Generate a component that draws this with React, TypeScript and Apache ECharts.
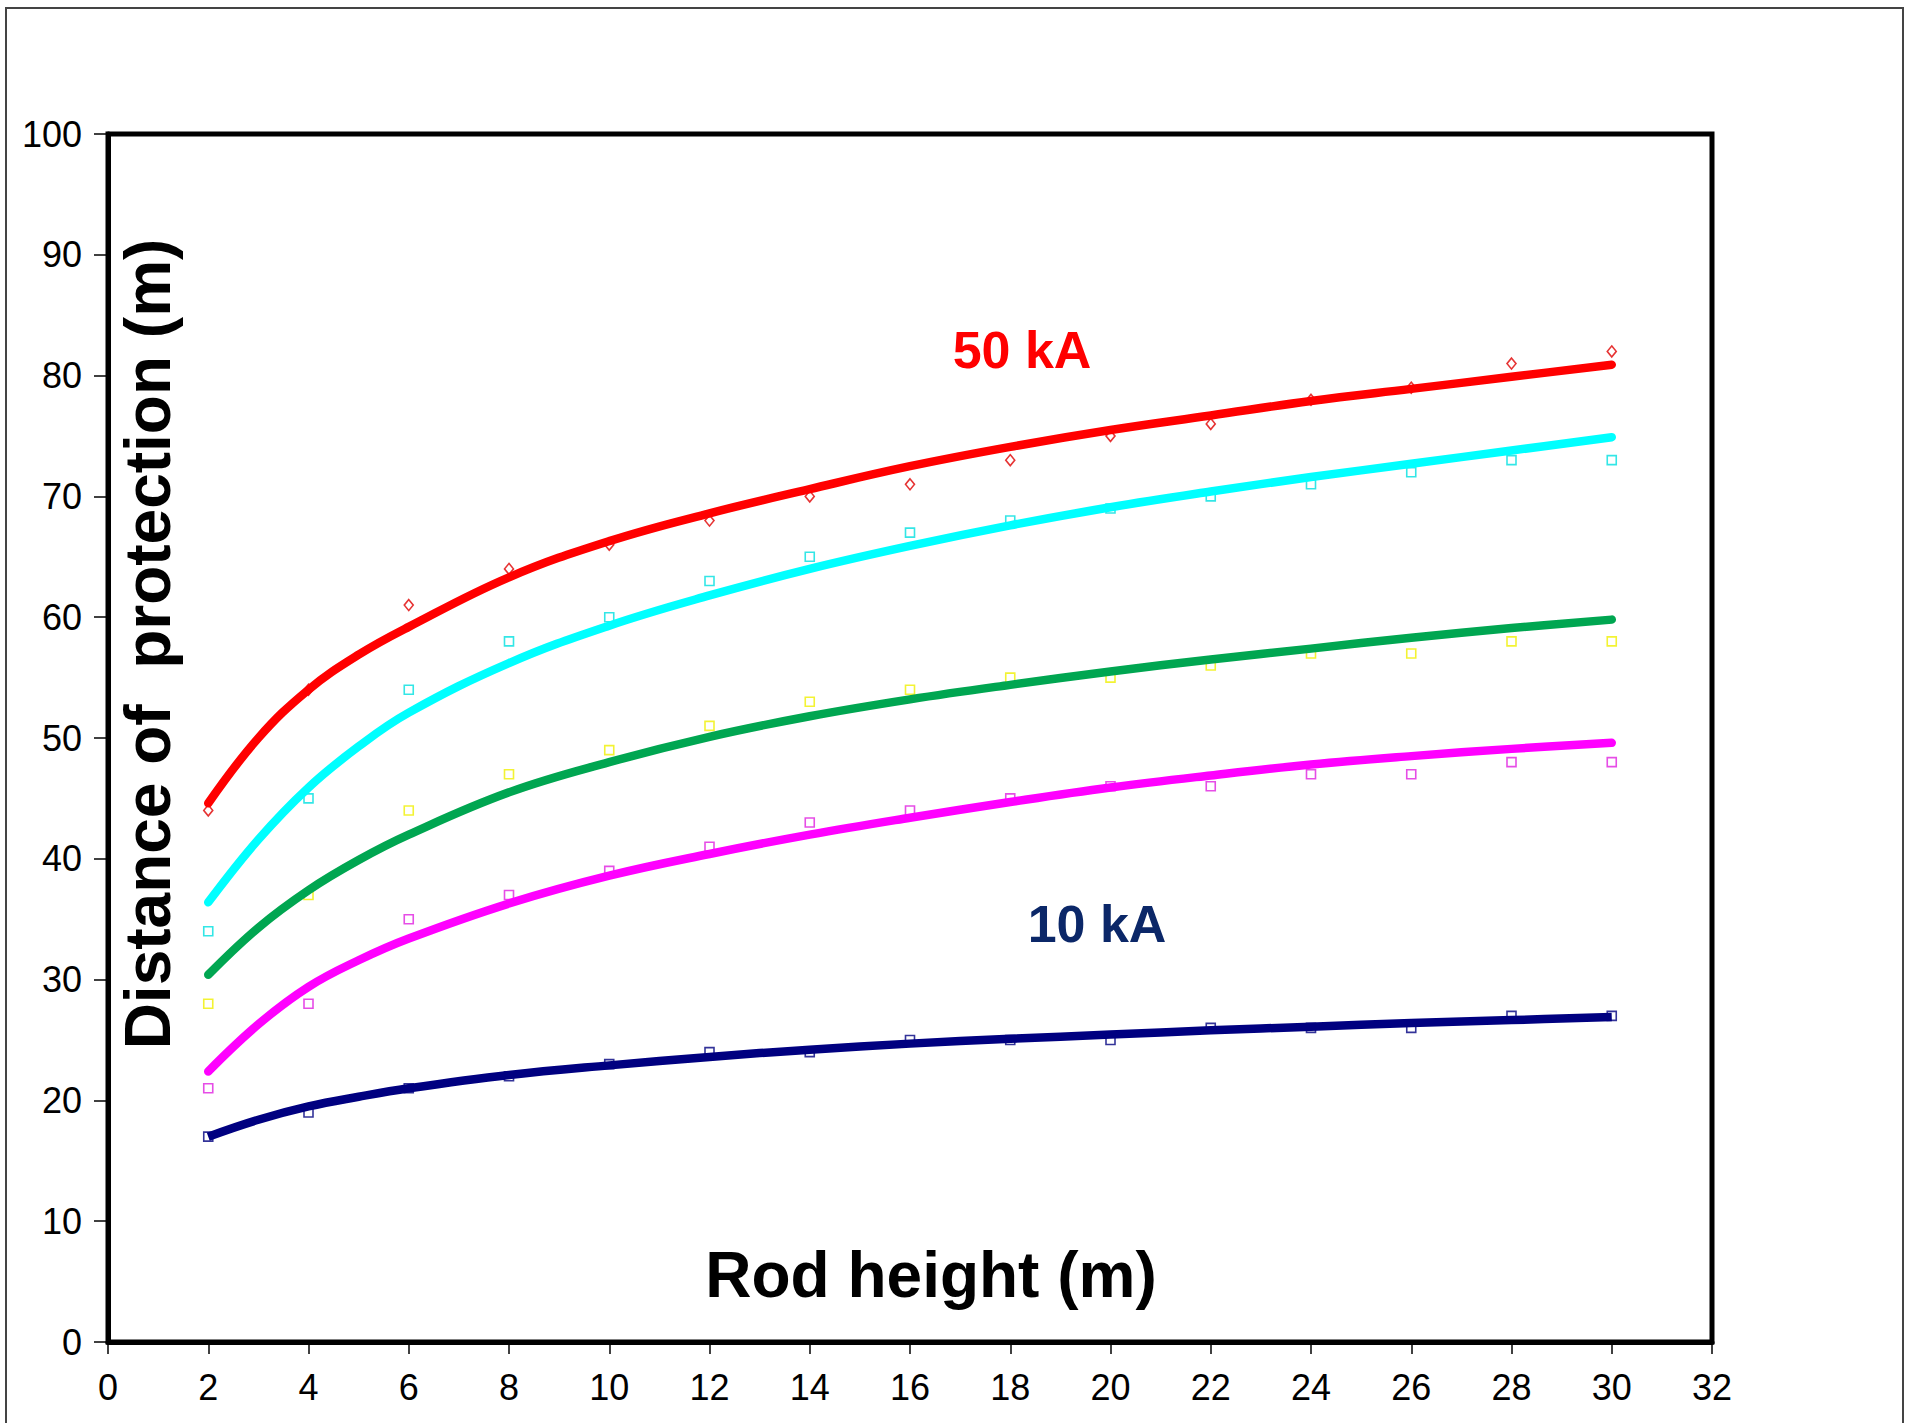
import React, { useEffect, useRef } from "react";
import * as echarts from "echarts";

// Marker (measured) data
const markerX = [2, 4, 6, 8, 10, 12, 14, 16, 18, 20, 22, 24, 26, 28, 30];
const redMarkers = [44, 54, 61, 64, 66, 68, 70, 71, 73, 75, 76, 78, 79, 81, 82];
const cyanMarkers = [34, 45, 54, 58, 60, 63, 65, 67, 68, 69, 70, 71, 72, 73, 73];
const yellowMarkers = [28, 37, 44, 47, 49, 51, 53, 54, 55, 55, 56, 57, 57, 58, 58];
const magentaMarkers = [21, 28, 35, 37, 39, 41, 43, 44, 45, 46, 46, 47, 47, 48, 48];
const navyMarkers = [17, 19, 21, 22, 23, 24, 24, 25, 25, 25, 26, 26, 26, 27, 27];

// Fitted curves
const curveX = [2, 3, 4, 5, 6, 8, 10, 12, 14, 16, 18, 20, 22, 24, 26, 28, 30];
const redCurve = [44.6, 50.0, 54.0, 56.9, 59.2, 63.3, 66.3, 68.6, 70.6, 72.5, 74.1, 75.5, 76.7, 77.9, 78.9, 79.9, 80.9];
const cyanCurve = [36.4, 41.6, 45.9, 49.3, 52.1, 56.2, 59.3, 61.8, 64.0, 65.9, 67.6, 69.1, 70.4, 71.6, 72.7, 73.8, 74.9];
const greenCurve = [30.4, 34.3, 37.4, 39.9, 42.0, 45.5, 48.0, 50.1, 51.8, 53.2, 54.4, 55.5, 56.5, 57.4, 58.3, 59.1, 59.8];
const magentaCurve = [22.4, 26.3, 29.4, 31.6, 33.4, 36.3, 38.6, 40.4, 42.0, 43.4, 44.7, 45.9, 46.9, 47.8, 48.5, 49.1, 49.6];
const navyCurve = [17.0, 18.4, 19.5, 20.3, 21.0, 22.1, 22.9, 23.6, 24.2, 24.7, 25.1, 25.45, 25.8, 26.1, 26.4, 26.65, 26.9];

const xTitle = "Rod height (m)";
const yTitle = "Distance of  protection (m)";
const label50 = "50 kA";
const label10 = "10 kA";

const FONT = "'Liberation Sans', Arial, Helvetica, sans-serif";

const pairs = (xs: number[], ys: number[]) => xs.map((x, i) => [x, ys[i]]);

export default function App() {
  const ref = useRef<HTMLDivElement>(null);

  useEffect(() => {
    document.body.style.margin = "0";
    if (!ref.current) return;
    const chart = echarts.init(ref.current, undefined, { renderer: "svg" });

    const scatter = (data: number[], color: string, symbol: string, size: any) => ({
      type: "scatter",
      data: pairs(markerX, data),
      symbol,
      symbolSize: size,
      z: 2,
      itemStyle: { color: "rgba(255,255,255,0)", borderColor: color, borderWidth: 1.6 },
      silent: true,
    });
    const line = (data: number[], color: string, cap: string = "round") => ({
      type: "line",
      data: pairs(curveX, data),
      smooth: 0.4,
      showSymbol: false,
      symbol: "none",
      z: 3,
      lineStyle: { color, width: 8.5, cap, join: "round" },
      silent: true,
    });

    chart.setOption({
      animation: false,
      backgroundColor: "#ffffff",
      grid: {
        left: 108,
        right: 198,
        top: 134,
        bottom: 81,
        show: true,
        borderColor: "#000",
        borderWidth: 5,
        backgroundColor: "transparent",
      },
      xAxis: {
        type: "value",
        min: 0,
        max: 32,
        interval: 2,
        splitLine: { show: false },
        axisLine: { show: true, lineStyle: { color: "#000", width: 5 } },
        axisTick: { show: true, inside: false, length: 12, lineStyle: { color: "#000", width: 1.5 } },
        axisLabel: { fontSize: 36, color: "#000", fontFamily: FONT, margin: 27 },
      },
      yAxis: {
        type: "value",
        min: 0,
        max: 100,
        interval: 10,
        splitLine: { show: false },
        axisLine: { show: true, lineStyle: { color: "#000", width: 5 } },
        axisTick: { show: true, inside: false, length: 14, lineStyle: { color: "#000", width: 1.5 } },
        axisLabel: { fontSize: 36, color: "#000", fontFamily: FONT, margin: 26 },
      },
      series: [
        scatter(redMarkers, "#e00000", "diamond", [9, 11]),
        scatter(cyanMarkers, "#00e0e0", "rect", 9),
        scatter(yellowMarkers, "#f0f000", "rect", 9),
        scatter(magentaMarkers, "#e020e0", "rect", 9),
        scatter(navyMarkers, "#000080", "rect", 9),
        line(redCurve, "#ff0000"),
        line(cyanCurve, "#00ffff"),
        line(greenCurve, "#00a651"),
        line(magentaCurve, "#ff00ff"),
        line(navyCurve, "#000080", "butt"),
      ],
      graphic: [
        {
          type: "rect",
          shape: { x: 6, y: 8, width: 1897, height: 1440 },
          style: { fill: "none", stroke: "#444", lineWidth: 2 },
          silent: true,
          z: 0,
        },
        {
          type: "text",
          x: 1022,
          y: 350,
          style: { text: label50, fill: "#ff0000", font: `bold 52px ${FONT}`, textAlign: "center", textVerticalAlign: "middle" },
          z: 10,
        },
        {
          type: "text",
          x: 1097,
          y: 924,
          style: { text: label10, fill: "#0b2768", font: `bold 52px ${FONT}`, textAlign: "center", textVerticalAlign: "middle" },
          z: 10,
        },
        {
          type: "text",
          x: 931,
          y: 1275,
          style: { text: xTitle, fill: "#000", font: `bold 64px ${FONT}`, textAlign: "center", textVerticalAlign: "middle" },
          z: 10,
        },
        {
          type: "text",
          x: 148,
          y: 644,
          rotation: Math.PI / 2,
          style: { text: yTitle, fill: "#000", font: `bold 64px ${FONT}`, textAlign: "center", textVerticalAlign: "middle" },
          z: 10,
        },
      ],
    });

    return () => chart.dispose();
  }, []);

  return <div ref={ref} style={{ width: 1910, height: 1423 }} />;
}
